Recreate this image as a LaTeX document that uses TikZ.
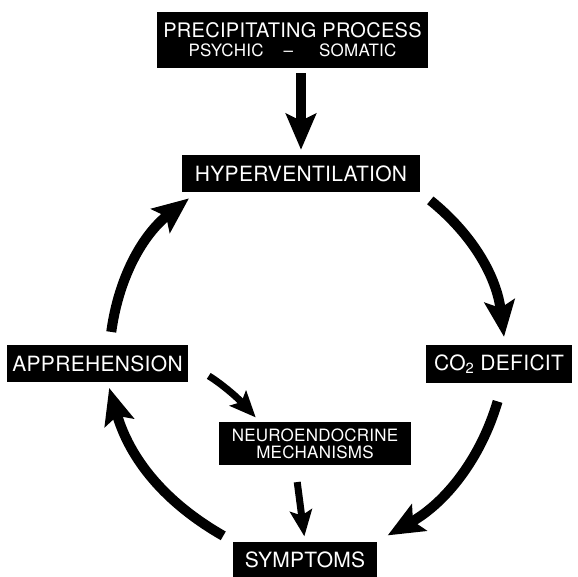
\documentclass[tikz,border=0pt]{standalone}
\usepackage{fontspec}
\newfontfamily\boxfont[LetterSpace=1.5]{TeX Gyre Heros}
\usetikzlibrary{arrows.meta, positioning}

\begin{document}
\begin{tikzpicture}[
        x=1pt, y=-1pt,
        box/.style={rectangle, fill=black, text=white, inner sep=0pt, align=center, minimum height=37pt, font=\boxfont\fontsize{21}{24}\selectfont},
        smallbox/.style={box, font=\boxfont\fontsize{17}{17}\selectfont},
        bigarrow/.style={-{Stealth[length=36pt, width=30pt, inset=7pt]}, line width=10pt},
        thinarrow/.style={-{Stealth[length=26pt, width=22pt, inset=5pt]}, line width=7pt}
    ]
        \useasboundingbox (0,0) rectangle (578,576);

        % Nodes
        \node (precip) [box, minimum width=271pt, minimum height=56pt, font=\boxfont\fontsize{20}{24}\selectfont] at (292.5,40) {PRECIPITATING PROCESS\\[-5pt]{\fontsize{17}{17}\selectfont PSYCHIC\hspace{20pt}\textendash\hspace{26pt}SOMATIC}};
        \node (hyper) [box, minimum width=238pt] at (301,173.5) {HYPERVENTILATION};
        \node (co2) [box, minimum width=146pt, minimum height=38pt] at (499,364) {CO\textsubscript{2} DEFICIT};
        \node (appr) [box, minimum width=181pt] at (97.5,363.5) {APPREHENSION};
        \node (neuro) [smallbox, minimum width=192pt, minimum height=43pt] at (315,443.5) {NEUROENDOCRINE\\MECHANISMS};
        \node (symp) [box, minimum width=144pt] at (305,560) {SYMPTOMS};

        % Arrows
        \draw [bigarrow, shorten <=5pt, shorten >=5pt] (hyper.north |- precip.south) -- (hyper.north);
        \draw [bigarrow, shorten <=13pt, shorten >=8pt] (hyper.south east) to[bend left=22] ([xshift=6pt]co2.north);
        \draw [bigarrow, shorten <=19pt, shorten >=12pt] ([xshift=4pt]co2.south) to[bend left=22] (symp.north east);
        \draw [bigarrow, shorten <=11pt, shorten >=6pt] (symp.north west) to[bend left=22] ([xshift=10pt]appr.south);
        \draw [bigarrow, shorten <=13pt, shorten >=10pt] ([xshift=12pt]appr.north) to[bend left=22] ([xshift=15pt]hyper.south west);
        \draw [thinarrow, shorten <=24pt, shorten >=6pt] (appr.east) to[bend left=8] ([xshift=41pt]neuro.north west);
        \draw [thinarrow, shorten <=17pt, shorten >=5pt] ([xshift=-20pt]neuro.south) -- (symp.north);
    \end{tikzpicture}
\end{document}
